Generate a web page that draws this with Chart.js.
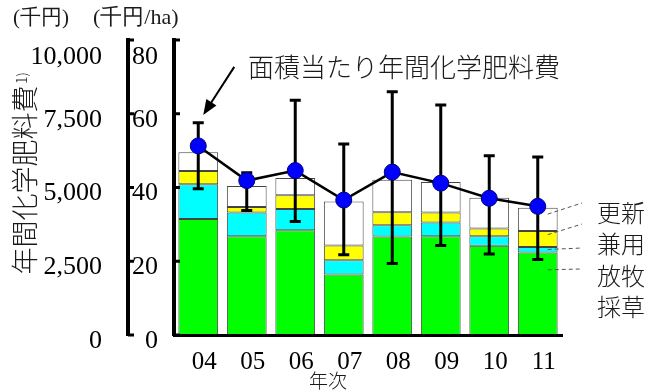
<!DOCTYPE html>
<html lang="ja">
<head>
<meta charset="utf-8">
<title>面積当たり年間化学肥料費</title>
<script src="https://cdn.jsdelivr.net/npm/chart.js@4.4.1/dist/chart.umd.min.js"></script>
<style>
  html, body { margin: 0; padding: 0; background: #fff; }
</style>
</head>
<body>
<canvas id="chart" width="658" height="391"></canvas>
<script>
// Data (千円/ha)
const years = ['04', '05', '06', '07', '08', '09', '10', '11'];
const seriesNames = ['採草', '放牧', '兼用', '更新'];
const saiso = [31.5, 26.8, 28.4, 16.4, 26.7, 26.8, 24.2, 22.4];
const hoboku = [9.4, 6.4, 5.8, 3.9, 3.1, 3.7, 2.6, 1.5];
const kenyo = [3.6, 1.5, 3.7, 4.0, 3.5, 2.7, 2.1, 4.3];
const koshin = [5.1, 5.7, 4.7, 11.9, 8.8, 8.3, 8.3, 6.3];
const perHa = [51.3, 41.9, 44.6, 36.6, 44.2, 41.2, 37.1, 34.9];
const errHigh = [57.6, 44.0, 63.7, 51.8, 66.0, 62.4, 48.6, 48.3];
const errLow = [39.7, 33.8, 30.8, 21.8, 19.4, 24.3, 22.0, 20.5];
const lineLabel = '面積当たり年間化学肥料費';

const NUM_FONT = '"Liberation Serif"';
const JP_FONT = '"Noto Sans CJK JP"';
const TEXT = '#1a1a1a';

function barSet(label, data, color) {
    return {
        label: label,
        data: data,
        backgroundColor: color,
        borderColor: '#444',
        borderWidth: 1,
        borderSkipped: false,
        stack: 'bars',
        order: 2,
        barPercentage: 0.82,
        categoryPercentage: 1.0
    };
}

function drawTicksInward(ctx, scale) {
    ctx.beginPath();
    scale.ticks.forEach((t, i) => {
        const py = scale.getPixelForTick(i);
        ctx.moveTo(scale.right, py);
        ctx.lineTo(scale.right + 6, py);
    });
    ctx.stroke();
}

function drawText(ctx, text, x, y, font, align) {
    ctx.font = font;
    ctx.textAlign = align || 'left';
    ctx.textBaseline = 'middle';
    ctx.fillText(text, x, y);
}

const decorations = {
    id: 'decorations',
    beforeDatasetDraw(chart, args) {
        if (args.index !== 4) return;
        // error bars, under the line and dots
        const { ctx, scales: { x, y } } = chart;
        ctx.save();
        ctx.strokeStyle = '#000';
        ctx.lineWidth = 3;
        years.forEach((_, i) => {
            const px = x.getPixelForValue(i);
            const top = y.getPixelForValue(errHigh[i]);
            const bot = y.getPixelForValue(errLow[i]);
            ctx.beginPath();
            ctx.moveTo(px, top); ctx.lineTo(px, bot);
            ctx.moveTo(px - 5.5, top); ctx.lineTo(px + 5.5, top);
            ctx.moveTo(px - 5.5, bot); ctx.lineTo(px + 5.5, bot);
            ctx.stroke();
        });
        ctx.restore();
    },
    afterDraw(chart) {
        const { ctx, chartArea, scales: { x, y, y2 } } = chart;
        ctx.save();

        // inward tick marks on both brackets
        ctx.strokeStyle = '#000';
        ctx.lineWidth = 3;
        drawTicksInward(ctx, y);
        drawTicksInward(ctx, y2);

        ctx.fillStyle = TEXT;

        // unit labels
        drawText(ctx, '(千円)', 13, 18, '21px ' + NUM_FONT);
        drawText(ctx, '(千円/ha)', 93, 18, '22px ' + NUM_FONT);

        // rotated axis title
        ctx.save();
        ctx.translate(24.5, 180);
        ctx.rotate(-Math.PI / 2);
        drawText(ctx, '年間化学肥料費', 0, 0, '300 27px ' + JP_FONT, 'center');
        drawText(ctx, '1)', 96, -3, '300 14px ' + JP_FONT, 'left');
        ctx.restore();

        // x axis title
        drawText(ctx, '年次', 328, 381, '300 19px ' + JP_FONT, 'center');

        // annotation with arrow pointing to the first dot
        const p0x = x.getPixelForValue(0);
        const p0y = y.getPixelForValue(perHa[0]);
        const tipX = p0x + 5, tipY = p0y - 31;
        const tailX = p0x + 36, tailY = p0y - 79;
        const ang = Math.atan2(tipY - tailY, tipX - tailX);
        ctx.strokeStyle = '#000';
        ctx.lineWidth = 2;
        ctx.beginPath();
        ctx.moveTo(tailX, tailY);
        ctx.lineTo(tipX - 10 * Math.cos(ang), tipY - 10 * Math.sin(ang));
        ctx.stroke();
        ctx.fillStyle = '#000';
        ctx.beginPath();
        ctx.moveTo(tipX, tipY);
        ctx.lineTo(tipX - 15 * Math.cos(ang) + 6 * Math.sin(ang), tipY - 15 * Math.sin(ang) - 6 * Math.cos(ang));
        ctx.lineTo(tipX - 15 * Math.cos(ang) - 6 * Math.sin(ang), tipY - 15 * Math.sin(ang) + 6 * Math.cos(ang));
        ctx.closePath();
        ctx.fill();
        ctx.fillStyle = TEXT;
        drawText(ctx, lineLabel, 248, 67, '300 26px ' + JP_FONT);

        // leader lines from the last bar to the segment names
        const last = years.length - 1;
        const lx = x.getPixelForValue(last) + 10;
        const segs = [saiso, hoboku, kenyo, koshin];
        const fracs = [0.79, 0.53, 0.77, 0.73];
        const ends = [269, 248, 224, 203];
        ctx.strokeStyle = '#555';
        ctx.lineWidth = 1;
        ctx.setLineDash([4, 3]);
        let base = 0;
        segs.forEach((s, k) => {
            const v = base + s[last] * fracs[k];
            base += s[last];
            ctx.beginPath();
            ctx.moveTo(lx, y.getPixelForValue(v));
            ctx.lineTo(chartArea.right + 20, ends[k]);
            ctx.stroke();
        });
        ctx.setLineDash([]);

        // segment names, top to bottom
        const nameY = [307, 276, 244, 213];
        seriesNames.forEach((n, k) => {
            drawText(ctx, n, chartArea.right + 35, nameY[k], '300 24px ' + JP_FONT);
        });

        ctx.restore();
    }
};

const ctx = document.getElementById('chart').getContext('2d');
const chart = new Chart(ctx, {
    type: 'bar',
    data: {
        labels: years,
        datasets: [
            barSet(seriesNames[0], saiso, '#00ff00'),
            barSet(seriesNames[1], hoboku, '#00ffff'),
            barSet(seriesNames[2], kenyo, '#ffff00'),
            barSet(seriesNames[3], koshin, '#ffffff'),
            {
                type: 'line',
                label: lineLabel,
                data: perHa,
                stack: 'line',
                order: 1,
                borderColor: '#000',
                borderWidth: 2.5,
                tension: 0,
                pointRadius: 8,
                pointBackgroundColor: '#0000ff',
                pointBorderColor: '#00007a',
                pointBorderWidth: 1
            }
        ]
    },
    options: {
        responsive: false,
        animation: false,
        layout: { padding: { top: 34, right: 96, left: 0, bottom: 0 } },
        plugins: {
            legend: { display: false },
            tooltip: { enabled: false }
        },
        scales: {
            x: {
                stacked: true,
                grid: { display: false },
                border: { display: true, color: '#000', width: 3, z: 1 },
                ticks: { color: '#000', font: { family: NUM_FONT, size: 25 }, padding: 4, labelOffset: 6 },
                afterFit: (s) => { s.height = 56; }
            },
            y: {
                position: 'left',
                stacked: true,
                min: 0,
                max: 80,
                weight: 0,
                grid: { display: false },
                border: { display: true, color: '#000', width: 4, z: 1 },
                ticks: {
                    stepSize: 20,
                    padding: 8,
                    labelOffset: 6,
                    color: '#000',
                    font: { family: NUM_FONT, size: 26, lineHeight: 0.85 },
                    callback: (v) => v === 80 ? ['', '80'] : String(v)
                },
                afterFit: (s) => { s.width = 46; }
            },
            y2: {
                position: 'left',
                min: 0,
                max: 10000,
                weight: 1,
                grid: { display: false },
                border: { display: true, color: '#000', width: 4, z: 1 },
                ticks: {
                    stepSize: 2500,
                    padding: 18,
                    labelOffset: 6,
                    color: '#000',
                    font: { family: NUM_FONT, size: 26, lineHeight: 0.85 },
                    callback: (v) => {
                        const s = v.toLocaleString('en-US');
                        return v === 10000 ? ['', s] : s;
                    }
                },
                afterFit: (s) => { s.width = 128; }
            }
        }
    },
    plugins: [decorations]
});
</script>
</body>
</html>
